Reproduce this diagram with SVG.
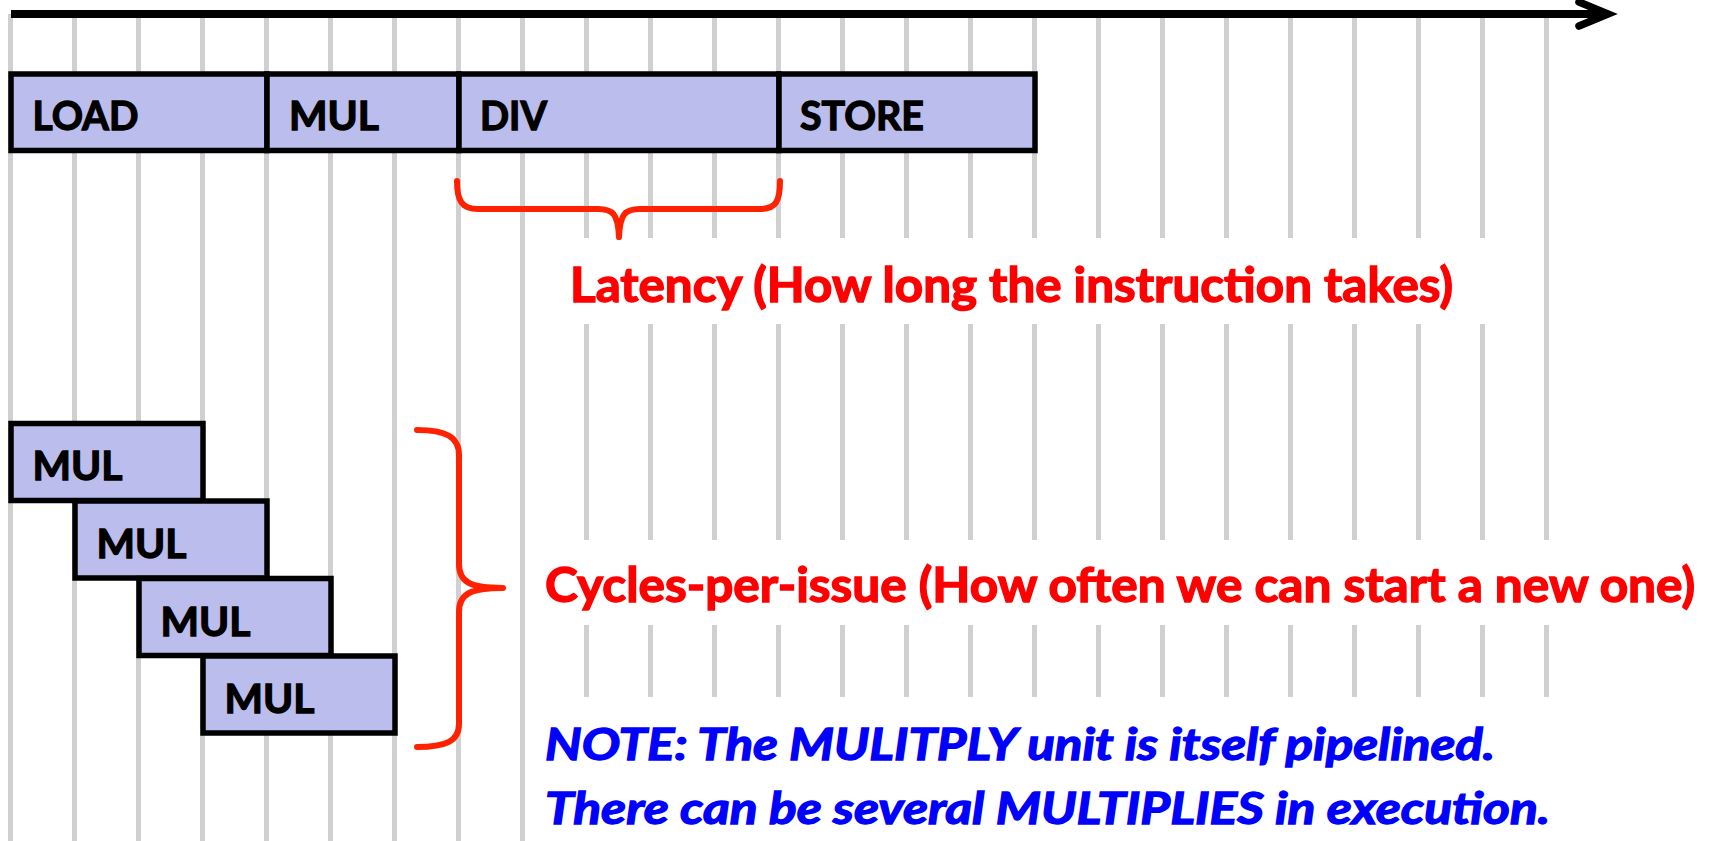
<svg xmlns="http://www.w3.org/2000/svg" width="1709" height="841" viewBox="0 0 1709 841">
<style>
.grid line{stroke:#d0d0d0;stroke-width:5}
.bg{fill:#ffffff}
.box rect{fill:#bbbdec;stroke:#000;stroke-width:5.5}
.lbl{font-family:Lato,"Liberation Sans",sans-serif;font-weight:bold;font-size:41px;fill:#000;stroke:#000;stroke-width:1.3}
.red{font-family:Lato,"Liberation Sans",sans-serif;font-weight:bold;font-size:47px;fill:#ff0000;stroke:#ff0000;stroke-width:1.4}
.blue{font-family:Lato,"Liberation Sans",sans-serif;font-weight:bold;font-style:italic;font-size:44px;fill:#0000ff;stroke:#0000ff;stroke-width:1.3}
.brace{fill:none;stroke:#ff2200;stroke-width:6;stroke-linecap:round;stroke-linejoin:round}
</style>
<rect width="1709" height="841" fill="#ffffff"/>
<g id="grid" class="grid">
<line x1="10.5" y1="14" x2="10.5" y2="841"/>
<line x1="74.5" y1="14" x2="74.5" y2="841"/>
<line x1="138.5" y1="14" x2="138.5" y2="841"/>
<line x1="202.5" y1="14" x2="202.5" y2="841"/>
<line x1="266.5" y1="14" x2="266.5" y2="841"/>
<line x1="330.5" y1="14" x2="330.5" y2="841"/>
<line x1="394.5" y1="14" x2="394.5" y2="841"/>
<line x1="458.5" y1="14" x2="458.5" y2="841"/>
<line x1="522.5" y1="14" x2="522.5" y2="841"/>
<line x1="586.5" y1="14" x2="586.5" y2="841"/>
<line x1="650.5" y1="14" x2="650.5" y2="841"/>
<line x1="714.5" y1="14" x2="714.5" y2="841"/>
<line x1="778.5" y1="14" x2="778.5" y2="841"/>
<line x1="842.5" y1="14" x2="842.5" y2="841"/>
<line x1="906.5" y1="14" x2="906.5" y2="841"/>
<line x1="970.5" y1="14" x2="970.5" y2="841"/>
<line x1="1034.5" y1="14" x2="1034.5" y2="841"/>
<line x1="1098.5" y1="14" x2="1098.5" y2="841"/>
<line x1="1162.5" y1="14" x2="1162.5" y2="841"/>
<line x1="1226.5" y1="14" x2="1226.5" y2="841"/>
<line x1="1290.5" y1="14" x2="1290.5" y2="841"/>
<line x1="1354.5" y1="14" x2="1354.5" y2="841"/>
<line x1="1418.5" y1="14" x2="1418.5" y2="841"/>
<line x1="1482.5" y1="14" x2="1482.5" y2="841"/>
<line x1="1546.5" y1="14" x2="1546.5" y2="841"/>
</g>
<g id="text-backgrounds">
<rect class="bg" x="560" y="238" width="945" height="86"/>
<rect class="bg" x="525" y="540" width="1184" height="85"/>
<rect class="bg" x="525" y="697" width="1184" height="144"/>
</g>
<g id="timeline">
<line x1="11" y1="14" x2="1604" y2="14" stroke="#000" stroke-width="8"/>
<polyline points="1579,2 1608,14 1579,26" fill="none" stroke="#000" stroke-width="7.5" stroke-linecap="round"/>
</g>
<g id="load" class="box"><rect x="11" y="74" width="256" height="76.5"/><text class="lbl" x="32.5" y="130" textLength="106" lengthAdjust="spacingAndGlyphs">LOAD</text></g>
<g id="mul-top" class="box"><rect x="267" y="74" width="192" height="76.5"/><text class="lbl" x="289" y="130" textLength="90" lengthAdjust="spacingAndGlyphs">MUL</text></g>
<g id="div" class="box"><rect x="459" y="74" width="320" height="76.5"/><text class="lbl" x="480" y="130" textLength="67" lengthAdjust="spacingAndGlyphs">DIV</text></g>
<g id="store" class="box"><rect x="779" y="74" width="256" height="76.5"/><text class="lbl" x="800" y="130" textLength="124" lengthAdjust="spacingAndGlyphs">STORE</text></g>
<g id="mul1" class="box"><rect x="11" y="423.5" width="192" height="77"/><text class="lbl" x="32.5" y="480" textLength="90" lengthAdjust="spacingAndGlyphs">MUL</text></g>
<g id="mul2" class="box"><rect x="75" y="501" width="192" height="77"/><text class="lbl" x="96.5" y="558" textLength="90" lengthAdjust="spacingAndGlyphs">MUL</text></g>
<g id="mul3" class="box"><rect x="139" y="578.5" width="192" height="77"/><text class="lbl" x="160.5" y="635.5" textLength="90" lengthAdjust="spacingAndGlyphs">MUL</text></g>
<g id="mul4" class="box"><rect x="203" y="656" width="192" height="77"/><text class="lbl" x="224.5" y="713" textLength="90" lengthAdjust="spacingAndGlyphs">MUL</text></g>
<g id="connectors">
<path class="brace" d="M457 181 C457 201 462 209 478 209 L598 209 C613 209 618 214 619 237 C620 214 625 209 640 209 L760 209 C776 209 780 201 780 181"/>
<path class="brace" d="M417 430 C446 430 459 437 459 455 L459 564 C459 582 470 588 503 588 C470 588 459 594 459 612 L459 724 C459 741 446 747 417 747"/>
</g>
<g id="latency-label"><text class="red" x="570" y="302" textLength="883" lengthAdjust="spacingAndGlyphs">Latency (How long the instruction takes)</text></g>
<g id="cpi-label"><text class="red" x="545" y="602" textLength="1150" lengthAdjust="spacingAndGlyphs">Cycles-per-issue (How often we can start a new one)</text></g>
<g id="note">
<text class="blue" x="545" y="760" textLength="950" lengthAdjust="spacingAndGlyphs">NOTE: The MULITPLY unit is itself pipelined.</text>
<text class="blue" x="545" y="824" textLength="1005" lengthAdjust="spacingAndGlyphs">There can be several MULTIPLIES in execution.</text>
</g>
</svg>
